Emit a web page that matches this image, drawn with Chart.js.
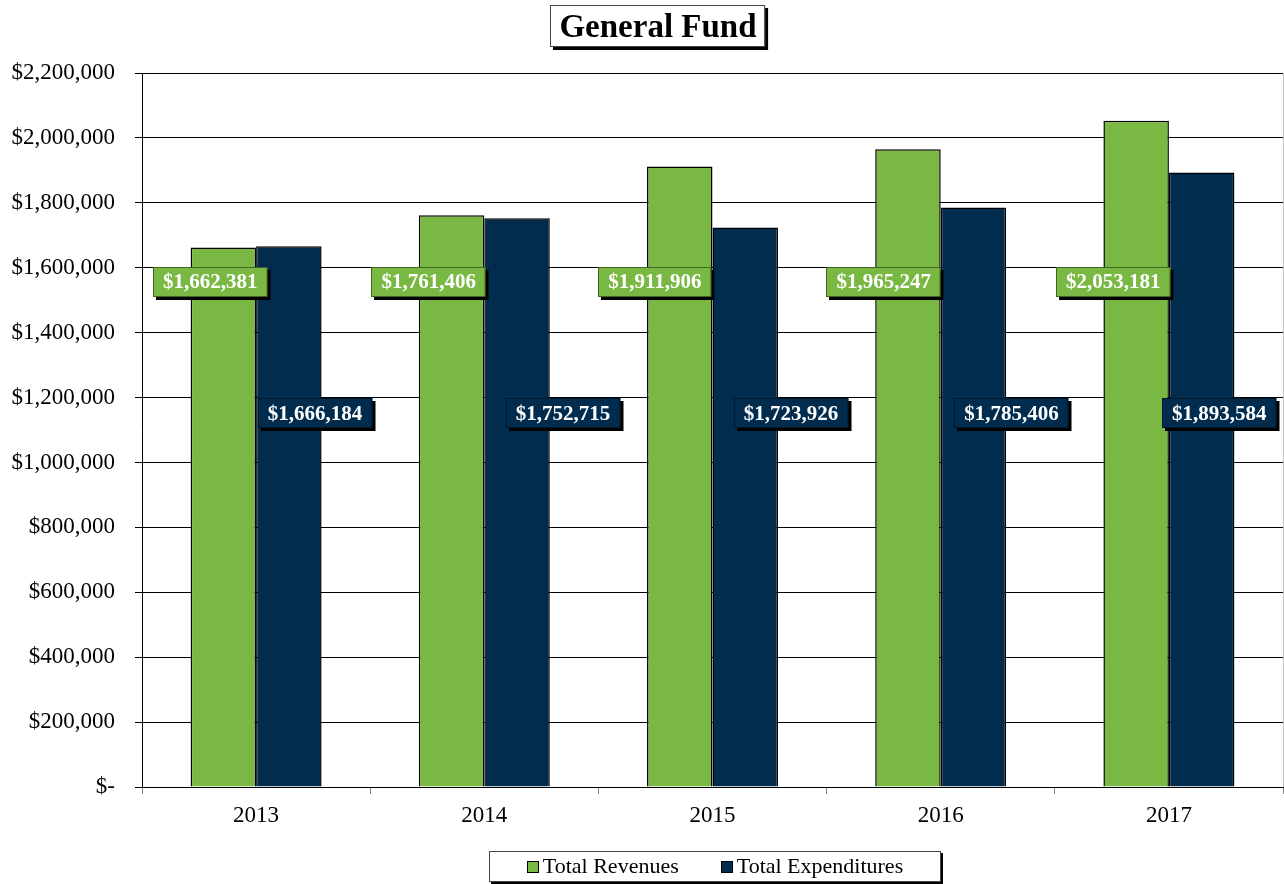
<!DOCTYPE html>
<html>
<head>
<meta charset="utf-8">
<script src="https://cdn.jsdelivr.net/npm/chart.js@4.4.1/dist/chart.umd.min.js"></script>
<style>
html,body{margin:0;padding:0;background:#fff;}
#wrap{width:1284px;height:884px;}
</style>
</head>
<body>
<div id="wrap"><canvas id="c" width="1284" height="884"></canvas></div>
<script>
// ---- data ----
const chartTitle = 'General Fund';
const years = ['2013', '2014', '2015', '2016', '2017'];
const seriesNames = ['Total Revenues', 'Total Expenditures'];
const totalRevenues = [1662381, 1761406, 1911906, 1965247, 2053181];
const totalExpenditures = [1666184, 1752715, 1723926, 1785406, 1893584];
const yTickMax = 2200000;
const yTickStep = 200000;

// ---- styling / label placement (not data) ----
const colors = ['#79B943', '#022C4E'];
const labelLevel = [1556000, 1152000];             // vertical level of data label boxes (axis value)
const labelShift = [                                // horizontal shift as fraction of bar width
  [-0.20, -0.35, -0.38, -0.37, -0.35],
  [0.40, 0.70, 0.70, 0.58, 0.27]
];
const serif = '"Liberation Serif", "Times New Roman", serif';

function fmtMoney(v) {
  if (v === 0) return '$-';
  return '$' + Math.round(v).toLocaleString('en-US');
}

const decorPlugin = {
  id: 'decor',
  afterDatasetsDraw(chart) {
    const ctx = chart.ctx;
    const y = chart.scales.y;
    ctx.save();
    ctx.font = 'bold 21px ' + serif;
    ctx.textAlign = 'center';
    ctx.textBaseline = 'middle';
    chart.data.datasets.forEach((ds, i) => {
      const meta = chart.getDatasetMeta(i);
      meta.data.forEach((el, j) => {
        const txt = fmtMoney(ds.data[j]);
        const w = ctx.measureText(txt).width + 20;
        const h = 30;
        const cx = el.x + labelShift[i][j] * el.width;
        const cy = y.getPixelForValue(labelLevel[i]);
        const x0 = Math.round(cx - w / 2), y0 = Math.round(cy - h / 2);
        ctx.fillStyle = '#000';
        ctx.fillRect(x0 + 3, y0 + 3, w, h);
        ctx.fillStyle = colors[i];
        ctx.fillRect(x0, y0, w, h);
        ctx.strokeStyle = 'rgba(0,0,0,0.45)';
        ctx.lineWidth = 1;
        ctx.strokeRect(x0 + 0.5, y0 + 0.5, w - 1, h - 1);
        ctx.fillStyle = '#fff';
        ctx.fillText(txt, cx, cy + 1);
      });
    });
    ctx.restore();
  },
  afterDraw(chart) {
    const ctx = chart.ctx;
    const area = chart.chartArea;
    ctx.save();
    // right frame line
    ctx.strokeStyle = '#c0c0c0';
    ctx.lineWidth = 1;
    ctx.beginPath();
    ctx.moveTo(area.right + 0.5, area.top);
    ctx.lineTo(area.right + 0.5, area.bottom);
    ctx.stroke();

    // title box
    ctx.font = 'bold 33px ' + serif;
    const tw = ctx.measureText(chartTitle).width + 18;
    const th = 42;
    const tcx = 658;
    const tx = Math.round(tcx - tw / 2), ty = 5;
    ctx.fillStyle = '#000';
    ctx.fillRect(tx + 3, ty + 3, tw, th);
    ctx.fillStyle = '#fff';
    ctx.fillRect(tx, ty, tw, th);
    ctx.strokeStyle = '#444';
    ctx.strokeRect(tx + 0.5, ty + 0.5, tw - 1, th - 1);
    ctx.fillStyle = '#000';
    ctx.textAlign = 'center';
    ctx.textBaseline = 'middle';
    ctx.fillText(chartTitle, tcx, ty + th / 2 + 2);

    // legend box
    const lx = 489, ly = 851, lw = 452, lh = 31;
    ctx.fillStyle = '#000';
    ctx.fillRect(lx + 2, ly + 2, lw, lh);
    ctx.fillStyle = '#fff';
    ctx.fillRect(lx, ly, lw, lh);
    ctx.strokeStyle = '#444';
    ctx.strokeRect(lx + 0.5, ly + 0.5, lw - 1, lh - 1);
    ctx.font = '22px ' + serif;
    ctx.textAlign = 'left';
    ctx.textBaseline = 'middle';
    const gap = 42, sq = 12, sgap = 4;
    const widths = seriesNames.map(n => ctx.measureText(n).width);
    const total = widths.reduce((a, b) => a + b, 0) + seriesNames.length * (sq + sgap) + gap * (seriesNames.length - 1);
    let x = lx + lw / 2 - total / 2;
    const my = ly + lh / 2;
    seriesNames.forEach((n, i) => {
      ctx.fillStyle = colors[i];
      ctx.fillRect(Math.round(x), Math.round(my - 6), sq, sq);
      ctx.strokeStyle = '#000';
      ctx.strokeRect(Math.round(x) + 0.5, Math.round(my - 6) + 0.5, sq - 1, sq - 1);
      ctx.fillStyle = '#000';
      ctx.fillText(n, x + sq + sgap, my + 1);
      x += sq + sgap + widths[i] + gap;
    });
    ctx.restore();
  }
};

new Chart(document.getElementById('c'), {
  type: 'bar',
  data: {
    labels: years,
    datasets: [
      { label: seriesNames[0], data: totalRevenues, backgroundColor: colors[0], borderColor: '#000', borderWidth: 1.5 },
      { label: seriesNames[1], data: totalExpenditures, backgroundColor: colors[1], borderColor: '#000', borderWidth: 1.5 }
    ]
  },
  options: {
    responsive: false,
    animation: false,
    layout: { padding: { top: 73, right: 1, left: 0, bottom: 0 } },
    datasets: { bar: { categoryPercentage: 0.574, barPercentage: 1 } },
    plugins: {
      legend: { display: false },
      title: { display: false },
      tooltip: { enabled: false }
    },
    scales: {
      x: {
        offset: true,
        grid: { display: true, drawOnChartArea: false, drawTicks: true, tickLength: 7, color: '#808080', offset: true },
        border: { display: true, color: '#000', width: 1 },
        ticks: { color: '#000', font: { family: serif, size: 23 }, padding: 8 },
        afterFit(s) { s.height = 97; }
      },
      y: {
        min: 0,
        max: yTickMax,
        grid: { color: '#000', lineWidth: 1, tickLength: 7, drawTicks: true },
        border: { display: true, color: '#000', width: 1 },
        ticks: {
          stepSize: yTickStep,
          color: '#000',
          font: { family: serif, size: 23 },
          padding: 20,
          callback: v => fmtMoney(v)
        },
        afterFit(s) { s.width = 142; }
      }
    }
  },
  plugins: [decorPlugin]
});
</script>
</body>
</html>
